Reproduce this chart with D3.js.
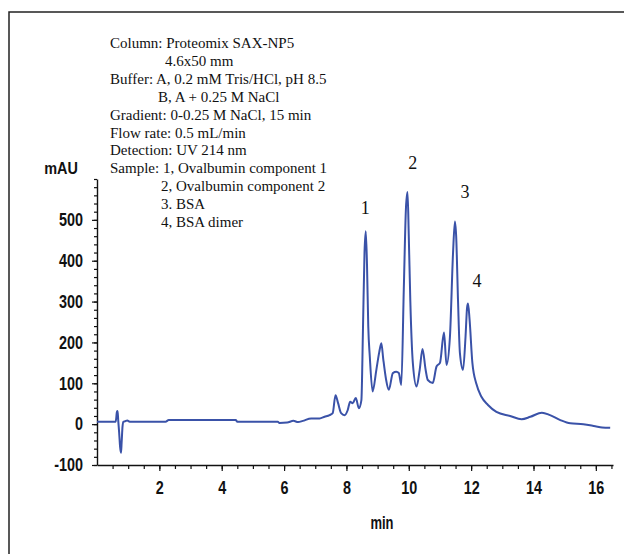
<!DOCTYPE html>
<html>
<head>
<meta charset="utf-8">
<script src="https://cdn.jsdelivr.net/npm/d3@7"></script>
<style>
  body { margin: 0; background: #fff; }
  .ax text { font-family: "Liberation Sans", Arial, sans-serif; font-weight: bold; }
  .note { font-family: "Liberation Serif", "DejaVu Serif", serif; fill: #111; }
</style>
</head>
<body>
<svg id="chart" width="624" height="554"></svg>
<script>
// chromatogram trace: retention time (min) / absorbance (mAU)
const timeMin = [
  0, 0.3, 0.6, 0.64, 0.66, 0.68, 0.71, 0.74, 0.77, 0.79, 0.82, 0.85, 0.9, 0.97, 1.05, 1.5, 2.2,
  2.3, 3.0, 4.0, 4.45, 4.5, 5.2, 5.8, 5.85, 6.1, 6.3, 6.45, 6.6,
  6.87, 7.14, 7.3, 7.46, 7.56, 7.65, 7.73, 7.83, 7.94, 8.04, 8.12, 8.2, 8.3, 8.4, 8.48,
  8.53, 8.58, 8.62, 8.66, 8.7, 8.75, 8.84, 8.96, 9.05, 9.12, 9.18, 9.27, 9.36, 9.49, 9.6, 9.68, 9.76,
  9.84, 9.91, 9.96, 10.0, 10.05, 10.13, 10.25, 10.35, 10.44, 10.54, 10.61, 10.77, 10.89, 11.0,
  11.13, 11.21, 11.32, 11.42, 11.48, 11.52, 11.58, 11.64, 11.74, 11.82, 11.87, 11.9, 11.95, 12.04,
  12.17, 12.33, 12.54, 12.81, 13.25, 13.62, 13.9, 14.27, 14.53, 14.86, 15.18, 15.6, 15.98, 16.2, 16.46
];
const absorbance = [
  6, 6, 6, 30, 32, 10, -20, -55, -70, -45, -5, 6, 7, 9, 6, 6, 6,
  10, 10, 10, 10, 6, 6, 6, 3, 4, 8, 5, 8,
  14, 14, 18, 22, 27, 71, 52, 27, 22, 34, 55, 51, 64, 39, 59,
  230, 420, 472, 390, 240, 165, 80, 133, 175, 198, 160, 110, 84, 125, 128, 125, 96,
  330, 530, 568, 460, 300, 150, 92, 133, 184, 133, 108, 101, 141, 150,
  224, 145, 214, 420, 496, 460, 300, 174, 133, 214, 285, 295, 256, 150,
  98, 67, 47, 30, 20, 12, 18, 28, 22, 10, 2, 0, -5, -8, -9
];
const xTicks = [2, 4, 6, 8, 10, 12, 14, 16];
const yTicks = [-100, 0, 100, 200, 300, 400, 500];
const noteLines = [
  "Column: Proteomix SAX-NP5",
  "4.6x50 mm",
  "Buffer: A, 0.2 mM Tris/HCl, pH 8.5",
  "B, A + 0.25 M NaCl",
  "Gradient: 0-0.25 M NaCl, 15 min",
  "Flow rate: 0.5 mL/min",
  "Detection: UV 214 nm",
  "Sample: 1, Ovalbumin component 1",
  "2, Ovalbumin component 2",
  "3. BSA",
  "4, BSA dimer"
];
const noteIndent = [0, 55, 0, 48, 0, 0, 0, 0, 51, 51, 51];
const peakNames = ["1", "2", "3", "4"];
const peakTimes = [8.6, 10.13, 11.8, 12.19];
const peakLabelY = [514, 624, 553, 336];

const data = timeMin.map((t, i) => ({ t, a: absorbance[i] }));

const svg = d3.select("#chart");

// squeeze a bold sans text horizontally, like the narrow font of the original
function narrow(sel, k) {
    sel.each(function () {
        const w = this.getComputedTextLength();
        d3.select(this).attr("textLength", w * k).attr("lengthAdjust", "spacingAndGlyphs");
    });
}

// outer frame (left and top only)
svg.append("path")
    .attr("d", "M9,554 V12 H624")
    .attr("fill", "none")
    .attr("stroke", "#222")
    .attr("stroke-width", 1.5);

const x = d3.scaleLinear().domain([0, 16.55]).range([97, 613]);
const y = d3.scaleLinear().domain([-100, 600]).range([465, 179]);

// minor ticks
svg.append("g")
    .attr("class", "ax")
    .attr("transform", "translate(0,465)")
    .call(d3.axisBottom(x).tickValues(d3.range(0.5, 16.51, 0.5)).tickSize(4).tickFormat(""))
    .call(g => g.select(".domain").remove());

svg.append("g")
    .attr("class", "ax")
    .attr("transform", "translate(97,0)")
    .call(d3.axisLeft(y).tickValues(d3.range(-100, 601, 20)).tickSize(3).tickFormat(""))
    .call(g => g.select(".domain").remove());

// major ticks + labels
const xAxis = svg.append("g")
    .attr("class", "ax")
    .attr("transform", "translate(0,465)")
    .call(d3.axisBottom(x).tickValues(xTicks).tickSize(6).tickSizeOuter(0).tickPadding(10)
        .tickFormat(d => String(d)));
xAxis.selectAll("text").attr("font-size", 18).attr("fill", "#111").call(narrow, 0.8);

const yAxis = svg.append("g")
    .attr("class", "ax")
    .attr("transform", "translate(97,0)")
    .call(d3.axisLeft(y).tickValues(yTicks).tickSize(5).tickSizeOuter(0).tickPadding(9)
        .tickFormat(d => String(d)));
yAxis.selectAll("text").attr("font-size", 18).attr("fill", "#111").call(narrow, 0.8);

svg.selectAll(".ax .domain").attr("stroke", "#111").attr("stroke-width", 1.4);
svg.selectAll(".ax .tick line").attr("stroke", "#111").attr("stroke-width", 1.2);

svg.append("g").attr("class", "ax")
    .append("text")
    .attr("x", 61).attr("y", 174)
    .attr("text-anchor", "middle")
    .attr("font-size", 17)
    .attr("fill", "#111")
    .text("mAU")
    .call(narrow, 0.85);

svg.append("g").attr("class", "ax")
    .append("text")
    .attr("x", 382).attr("y", 529)
    .attr("text-anchor", "middle")
    .attr("font-size", 18)
    .attr("fill", "#111")
    .text("min")
    .call(narrow, 0.72);

// trace
const line = d3.line()
    .x(d => x(d.t))
    .y(d => y(d.a))
    .curve(d3.curveMonotoneX);

svg.append("path")
    .datum(data)
    .attr("fill", "none")
    .attr("stroke", "#3a52a8")
    .attr("stroke-width", 2)
    .attr("stroke-linejoin", "round")
    .attr("d", line);

// method notes
svg.append("g")
    .selectAll("text")
    .data(noteLines)
    .join("text")
    .attr("class", "note")
    .attr("x", (d, i) => 110 + noteIndent[i])
    .attr("y", (d, i) => 48 + i * 17.9)
    .attr("font-size", 15)
    .text(d => d);

// peak numbers
svg.append("g")
    .selectAll("text")
    .data(peakNames)
    .join("text")
    .attr("class", "note")
    .attr("x", (d, i) => x(peakTimes[i]))
    .attr("y", (d, i) => y(peakLabelY[i]))
    .attr("text-anchor", "middle")
    .attr("font-size", 18)
    .text(d => d);
</script>
</body>
</html>
